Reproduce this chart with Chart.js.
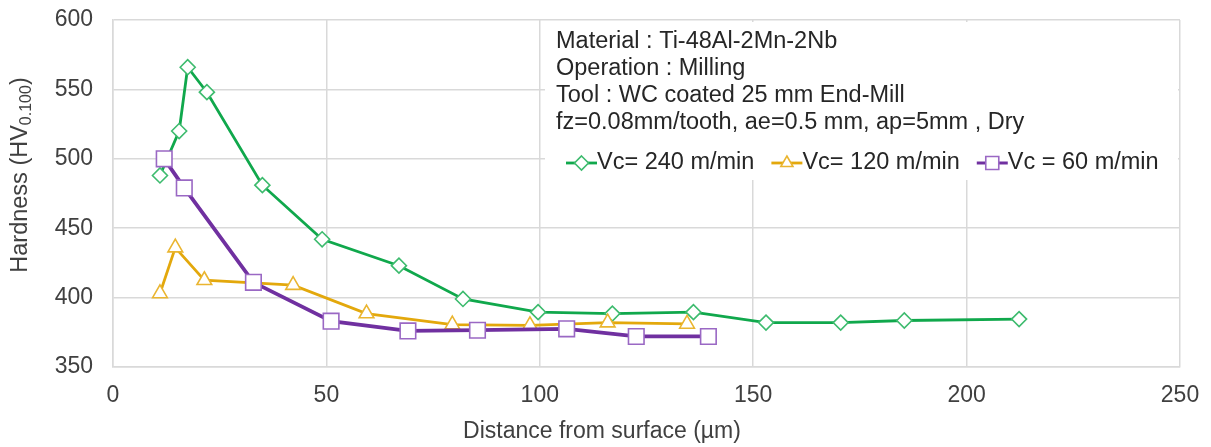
<!DOCTYPE html>
<html>
<head>
<meta charset="utf-8">
<script src="https://cdn.jsdelivr.net/npm/chart.js@4.4.0/dist/chart.umd.min.js"></script>
<style>
  html, body { margin: 0; padding: 0; background: #fff; }
  #wrap { width: 1211px; height: 447px; }
</style>
</head>
<body>
<div id="wrap"><canvas id="hardness"></canvas></div>
<script>
// distance from surface (um) / hardness HV0.100
const vc240X = [11, 15.5, 17.5, 22, 35, 49, 67, 82, 99.6, 117, 136, 153, 170.5, 185.4, 212.3]
const vc240Y = [488, 520, 566, 548, 481, 442, 423, 399, 389.5, 388.5, 389.5, 382, 382, 383.5, 384.5]

const vc120X = [11, 14.6, 21.4, 42.2, 59.4, 79.5, 97.7, 115.9, 134.5]
const vc120Y = [403, 436, 412.5, 409, 388.5, 380.5, 380, 382, 381]

const vc60X = [12, 16.7, 32.9, 51.1, 69.1, 85.4, 106.3, 122.6, 139.5]
const vc60Y = [500, 479, 411, 383, 376, 376.5, 377.5, 372, 372]

const xTicks = [0, 50, 100, 150, 200, 250]
const yTicks = [350, 400, 450, 500, 550, 600]

const infoLines = [
    'Material : Ti-48Al-2Mn-2Nb',
    'Operation : Milling',
    'Tool : WC coated 25 mm End-Mill',
    'fz=0.08mm/tooth, ae=0.5 mm, ap=5mm , Dry',
]
const seriesNames = ['Vc= 240 m/min', 'Vc= 120 m/min', 'Vc = 60 m/min']

const FONT = '"Liberation Sans", Arial, Helvetica, sans-serif'
const GRID = '#d9d9d9'

function toPoints(xs, ys) {
    return xs.map(function (x, i) { return { x: x, y: ys[i] } })
}

function drawMarker(ctx, style, x, y, r, stroke) {
    ctx.save()
    ctx.fillStyle = '#fff'
    ctx.strokeStyle = stroke
    ctx.lineWidth = 1.6
    ctx.beginPath()
    if (style === 'rectRot') {
        ctx.moveTo(x, y - r)
        ctx.lineTo(x + r, y)
        ctx.lineTo(x, y + r)
        ctx.lineTo(x - r, y)
    } else if (style === 'triangle') {
        ctx.moveTo(x, y - r)
        ctx.lineTo(x + r * 0.866, y + r * 0.5)
        ctx.lineTo(x - r * 0.866, y + r * 0.5)
    } else {
        ctx.rect(x - r, y - r, 2 * r, 2 * r)
    }
    ctx.closePath()
    ctx.fill()
    ctx.stroke()
    ctx.restore()
}

// info box, legend and axis titles (y title needs a subscript)
const overlay = {
    id: 'overlay',
    beforeDatasetsDraw(chart) {
        const ctx = chart.ctx
        const a = chart.chartArea
        ctx.save()
        ctx.fillStyle = '#fff'
        ctx.fillRect(545, a.top + 2, a.right - 547, 158)
        ctx.restore()
    },
    afterDraw(chart) {
        const ctx = chart.ctx
        ctx.save()
        ctx.fillStyle = '#262626'
        ctx.font = '23.5px ' + FONT
        ctx.textBaseline = 'middle'
        ctx.textAlign = 'left'
        infoLines.forEach(function (t, i) {
            ctx.fillText(t, 556, 42 + i * 27)
        })

        // legend row
        let lx = 566
        const ly = 163
        chart.data.datasets.forEach(function (ds, i) {
            ctx.strokeStyle = ds.borderColor
            ctx.lineWidth = Math.min(ds.borderWidth, 3)
            ctx.beginPath()
            ctx.moveTo(lx, ly)
            ctx.lineTo(lx + 31, ly)
            ctx.stroke()
            const r = ds.pointStyle === 'rect' ? 6.5 : 7
            drawMarker(ctx, ds.pointStyle, lx + 15.5, ly, r, ds.pointBorderColor)
            ctx.fillStyle = '#262626'
            ctx.fillText(seriesNames[i], lx + 31, ly)
            lx += 31 + ctx.measureText(seriesNames[i]).width + 17
        })

        // x title
        ctx.fillStyle = '#404040'
        ctx.font = '23px ' + FONT
        ctx.textAlign = 'center'
        ctx.fillText('Distance from surface (\u00b5m)', 602, 432)

        // y title with subscript
        ctx.translate(21, 175)
        ctx.rotate(-Math.PI / 2)
        const main = 'Hardness (HV'
        const sub = '0.100'
        ctx.font = '23.5px ' + FONT
        const w1 = ctx.measureText(main).width
        const w3 = ctx.measureText(')').width
        ctx.font = '16px ' + FONT
        const w2 = ctx.measureText(sub).width
        let sx = -(w1 + w2 + w3) / 2
        ctx.textAlign = 'left'
        ctx.font = '23.5px ' + FONT
        ctx.fillText(main, sx, 0)
        ctx.font = '16px ' + FONT
        ctx.fillText(sub, sx + w1, 6)
        ctx.font = '23.5px ' + FONT
        ctx.fillText(')', sx + w1 + w2, 0)
        ctx.restore()
    },
}

const config = {
    type: 'line',
    data: {
        datasets: [
            {
                label: seriesNames[0],
                data: toPoints(vc240X, vc240Y),
                borderColor: '#10a84c',
                borderWidth: 2.8,
                pointStyle: 'rectRot',
                pointRadius: 7.5,
                pointBorderColor: '#3dbb6e',
                pointBackgroundColor: '#fff',
                pointBorderWidth: 1.6,
                order: 3,
            },
            {
                label: seriesNames[1],
                data: toPoints(vc120X, vc120Y),
                borderColor: '#e3a80c',
                borderWidth: 2.8,
                pointStyle: 'triangle',
                pointRadius: 8.5,
                pointBorderColor: '#eab530',
                pointBackgroundColor: '#fff',
                pointBorderWidth: 1.6,
                order: 2,
            },
            {
                label: seriesNames[2],
                data: toPoints(vc60X, vc60Y),
                borderColor: '#7030a0',
                borderWidth: 3.8,
                pointStyle: 'rect',
                pointRadius: 11,
                pointBorderColor: '#9a68c4',
                pointBackgroundColor: '#fff',
                pointBorderWidth: 1.6,
                order: 1,
            },
        ],
    },
    options: {
        responsive: true,
        maintainAspectRatio: false,
        animation: false,
        layout: { padding: { top: 20, right: 31, left: 0, bottom: 0 } },
        plugins: {
            legend: { display: false },
            tooltip: { enabled: false },
        },
        scales: {
            x: {
                type: 'linear',
                min: xTicks[0],
                max: xTicks[xTicks.length - 1],
                afterFit: function (scale) { scale.height = 80 },
                grid: { color: GRID, lineWidth: 1.5, tickColor: 'rgba(0,0,0,0)', tickLength: 10 },
                border: { color: GRID, width: 1.5 },
                ticks: {
                    stepSize: xTicks[1] - xTicks[0],
                    color: '#404040',
                    font: { family: FONT, size: 23 },
                    padding: 5,
                    maxRotation: 0,
                },
            },
            y: {
                min: yTicks[0],
                max: yTicks[yTicks.length - 1],
                afterFit: function (scale) { scale.width = 113 },
                grid: { color: GRID, lineWidth: 1.5, tickColor: 'rgba(0,0,0,0)', tickLength: 15 },
                border: { color: GRID, width: 1.5 },
                ticks: {
                    stepSize: yTicks[1] - yTicks[0],
                    color: '#404040',
                    font: { family: FONT, size: 23 },
                    padding: 5,
                },
            },
        },
    },
    plugins: [overlay],
}

const chart = new Chart(document.getElementById('hardness'), config)
</script>
</body>
</html>
